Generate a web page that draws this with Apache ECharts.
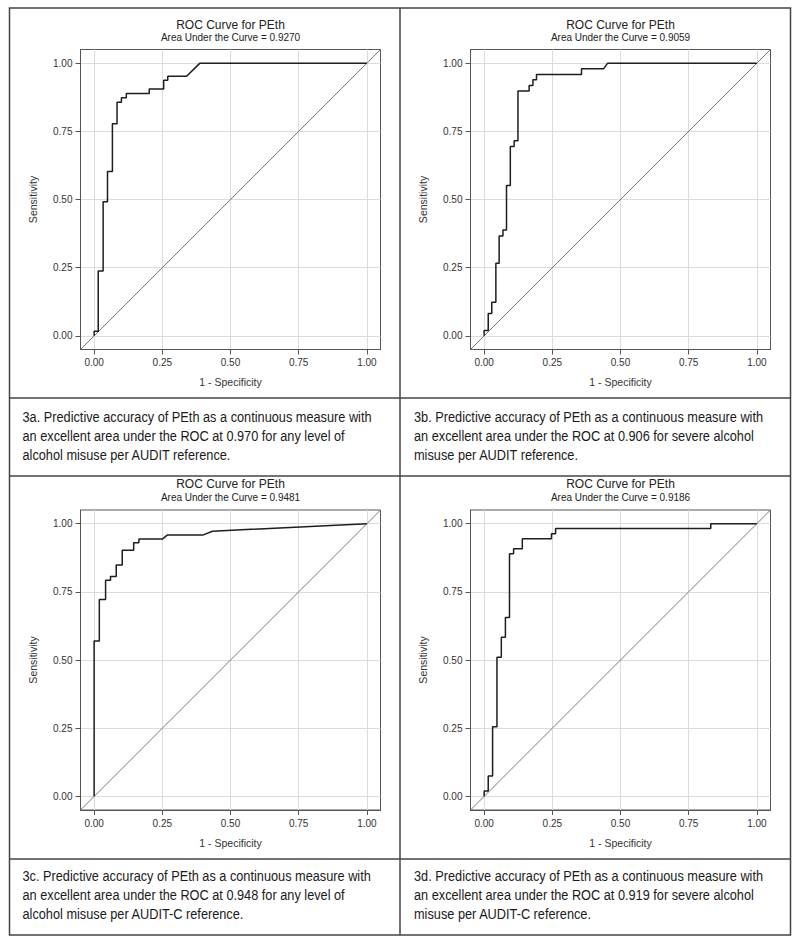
<!DOCTYPE html>
<html>
<head>
<meta charset="utf-8">
<title>ROC Curves for PEth</title>
<script src="https://cdn.jsdelivr.net/npm/echarts@6/dist/echarts.min.js"></script>
<style>
  html, body { margin: 0; padding: 0; background: #fff; }
  #main { width: 800px; height: 945px; }
</style>
</head>
<body>
<div id="main"></div>
<script>
// axis ticks shared by every panel
const tickValues = [0, 0.25, 0.5, 0.75, 1];
const axisMin = -0.05;
const axisMax = 1.05;

// chance (reference) line, corner to corner
const chanceX = [-0.05, 1.05];
const chanceY = [-0.05, 1.05];

// 3a - any level of alcohol misuse, AUDIT
const fprA = [0, 0, 0.015, 0.015, 0.033, 0.033, 0.049, 0.049, 0.067, 0.067, 0.084, 0.084, 0.100, 0.100,
  0.118, 0.118, 0.202, 0.202, 0.255, 0.255, 0.270, 0.270, 0.339, 0.388, 1.0];
const tprA = [0, 0.017, 0.017, 0.238, 0.238, 0.492, 0.492, 0.603, 0.603, 0.778, 0.778, 0.857, 0.857, 0.873,
  0.873, 0.889, 0.889, 0.905, 0.905, 0.937, 0.937, 0.952, 0.952, 1.0, 1.0];

// 3b - severe alcohol misuse, AUDIT
const fprB = [0, 0, 0.015, 0.015, 0.028, 0.028, 0.043, 0.043, 0.055, 0.055, 0.069, 0.069, 0.082, 0.082,
  0.096, 0.096, 0.110, 0.110, 0.124, 0.124, 0.165, 0.165, 0.179, 0.179, 0.192, 0.192, 0.357, 0.357,
  0.438, 0.453, 1.0];
const tprB = [0, 0.020, 0.020, 0.082, 0.082, 0.123, 0.123, 0.266, 0.266, 0.366, 0.366, 0.388, 0.388, 0.551,
  0.551, 0.694, 0.694, 0.715, 0.715, 0.898, 0.898, 0.918, 0.918, 0.939, 0.939, 0.958, 0.958, 0.979,
  0.979, 1.0, 1.0];

// 3c - any level of alcohol misuse, AUDIT-C
const fprC = [0, 0, 0.019, 0.019, 0.042, 0.042, 0.060, 0.060, 0.081, 0.081, 0.103, 0.103, 0.145, 0.145,
  0.164, 0.164, 0.251, 0.268, 0.398, 0.434, 1.0];
const tprC = [0, 0.570, 0.570, 0.722, 0.722, 0.792, 0.792, 0.806, 0.806, 0.848, 0.848, 0.902, 0.902, 0.930,
  0.930, 0.944, 0.944, 0.958, 0.958, 0.972, 1.0];

// 3d - severe alcohol misuse, AUDIT-C
const fprD = [0, 0, 0.015, 0.015, 0.031, 0.031, 0.047, 0.047, 0.063, 0.063, 0.078, 0.078, 0.093, 0.093,
  0.108, 0.108, 0.140, 0.140, 0.247, 0.247, 0.262, 0.262, 0.831, 0.831, 1.0];
const tprD = [0, 0.020, 0.020, 0.075, 0.075, 0.255, 0.255, 0.510, 0.510, 0.583, 0.583, 0.656, 0.656, 0.890,
  0.890, 0.908, 0.908, 0.945, 0.945, 0.963, 0.963, 0.982, 0.982, 1.0, 1.0];

const aucLabels = ["0.9270", "0.9059", "0.9481", "0.9186"];

const captions = [
  "3a. Predictive accuracy of PEth as a continuous measure with\nan excellent area under the ROC at 0.970 for any level of\nalcohol misuse per AUDIT reference.",
  "3b. Predictive accuracy of PEth as a continuous measure with\nan excellent area under the ROC at 0.906 for severe alcohol\nmisuse per AUDIT reference.",
  "3c. Predictive accuracy of PEth as a continuous measure with\nan excellent area under the ROC at 0.948 for any level of\nalcohol misuse per AUDIT-C reference.",
  "3d. Predictive accuracy of PEth as a continuous measure with\nan excellent area under the ROC at 0.919 for severe alcohol\nmisuse per AUDIT-C reference."
];

const curves = [[fprA, tprA], [fprB, tprB], [fprC, tprC], [fprD, tprD]];

// layout of the 2x2 table
const plotLefts = [80.5, 470.5, 80.5, 470.5];
const plotTops = [49.5, 49.5, 510, 510];
const plotSize = 300;
const titleTops = [18.5, 18.5, 478, 478];
const captionX = [22.5, 414, 22.5, 414];
const captionY = [407.5, 407.5, 866, 866];

const font = "Liberation Sans, Arial, sans-serif";

let grids = [], xAxes = [], yAxes = [], titles = [], series = [], graphics = [];

for (let i = 0; i < 4; i++) {
  grids.push({
    left: plotLefts[i], top: plotTops[i], width: plotSize, height: plotSize,
    show: true, borderColor: "#555", borderWidth: 1, backgroundColor: "#fff"
  });

  const axisCommon = {
    type: "value",
    gridIndex: i,
    min: axisMin,
    max: axisMax,
    nameLocation: "middle",
    nameTextStyle: { fontFamily: font, fontSize: 10.5, color: "#333" },
    axisLine: { show: true, onZero: false, lineStyle: { color: "#555", width: 1 } },
    axisTick: { show: true, length: 5, customValues: tickValues, lineStyle: { color: "#555" } },
    axisLabel: {
      customValues: tickValues, margin: 8,
      fontFamily: font, fontSize: 10, color: "#333",
      formatter: function (v) { return v.toFixed(2); }
    },
    splitLine: { show: true, lineStyle: { color: "#dcdcdc", width: 1 } }
  };

  xAxes.push(Object.assign({}, axisCommon, { name: "1 - Specificity", nameGap: 27 }));
  yAxes.push(Object.assign({}, axisCommon, { name: "Sensitivity", nameGap: 42 }));

  titles.push({
    text: "ROC Curve for PEth",
    subtext: "Area Under the Curve = " + aucLabels[i],
    left: plotLefts[i] + plotSize / 2,
    top: titleTops[i],
    textAlign: "center",
    padding: 0,
    itemGap: 2,
    textStyle: { fontFamily: font, fontSize: 12, fontWeight: "normal", color: "#222", lineHeight: 12 },
    subtextStyle: { fontFamily: font, fontSize: 10, color: "#222", lineHeight: 10 }
  });

  series.push({
    type: "line",
    xAxisIndex: i, yAxisIndex: i,
    data: chanceX.map((x, j) => [x, chanceY[j]]),
    showSymbol: false, silent: true,
    lineStyle: { color: "#777", width: 1 }
  });
  series.push({
    type: "line",
    xAxisIndex: i, yAxisIndex: i,
    data: curves[i][0].map((x, j) => [x, curves[i][1][j]]),
    showSymbol: false, silent: true,
    lineStyle: { color: "#1e1e1e", width: 1.5 }
  });

  // caption set in a narrow face: regular sans squeezed horizontally
  graphics.push({
    type: "text",
    x: captionX[i], y: captionY[i],
    scaleX: 0.85,
    style: {
      text: captions[i],
      font: "15px 'Liberation Sans', Arial, sans-serif",
      lineHeight: 19,
      fill: "#1a1a1a"
    }
  });
}

// table borders
const borderStyle = { stroke: "#444", lineWidth: 1.5 };
graphics.push({ type: "rect", shape: { x: 9.5, y: 8, width: 781, height: 927 }, style: { fill: "none", stroke: "#444", lineWidth: 1.5 } });
graphics.push({ type: "line", shape: { x1: 400, y1: 8, x2: 400, y2: 935 }, style: borderStyle });
[398, 476, 859].forEach(function (y) {
  graphics.push({ type: "line", shape: { x1: 9.5, y1: y, x2: 790.5, y2: y }, style: borderStyle });
});

const chart = echarts.init(document.getElementById("main"), null, { renderer: "svg" });
chart.setOption({
  animation: false,
  backgroundColor: "#fff",
  title: titles,
  grid: grids,
  xAxis: xAxes,
  yAxis: yAxes,
  series: series,
  graphic: graphics
});
</script>
</body>
</html>
